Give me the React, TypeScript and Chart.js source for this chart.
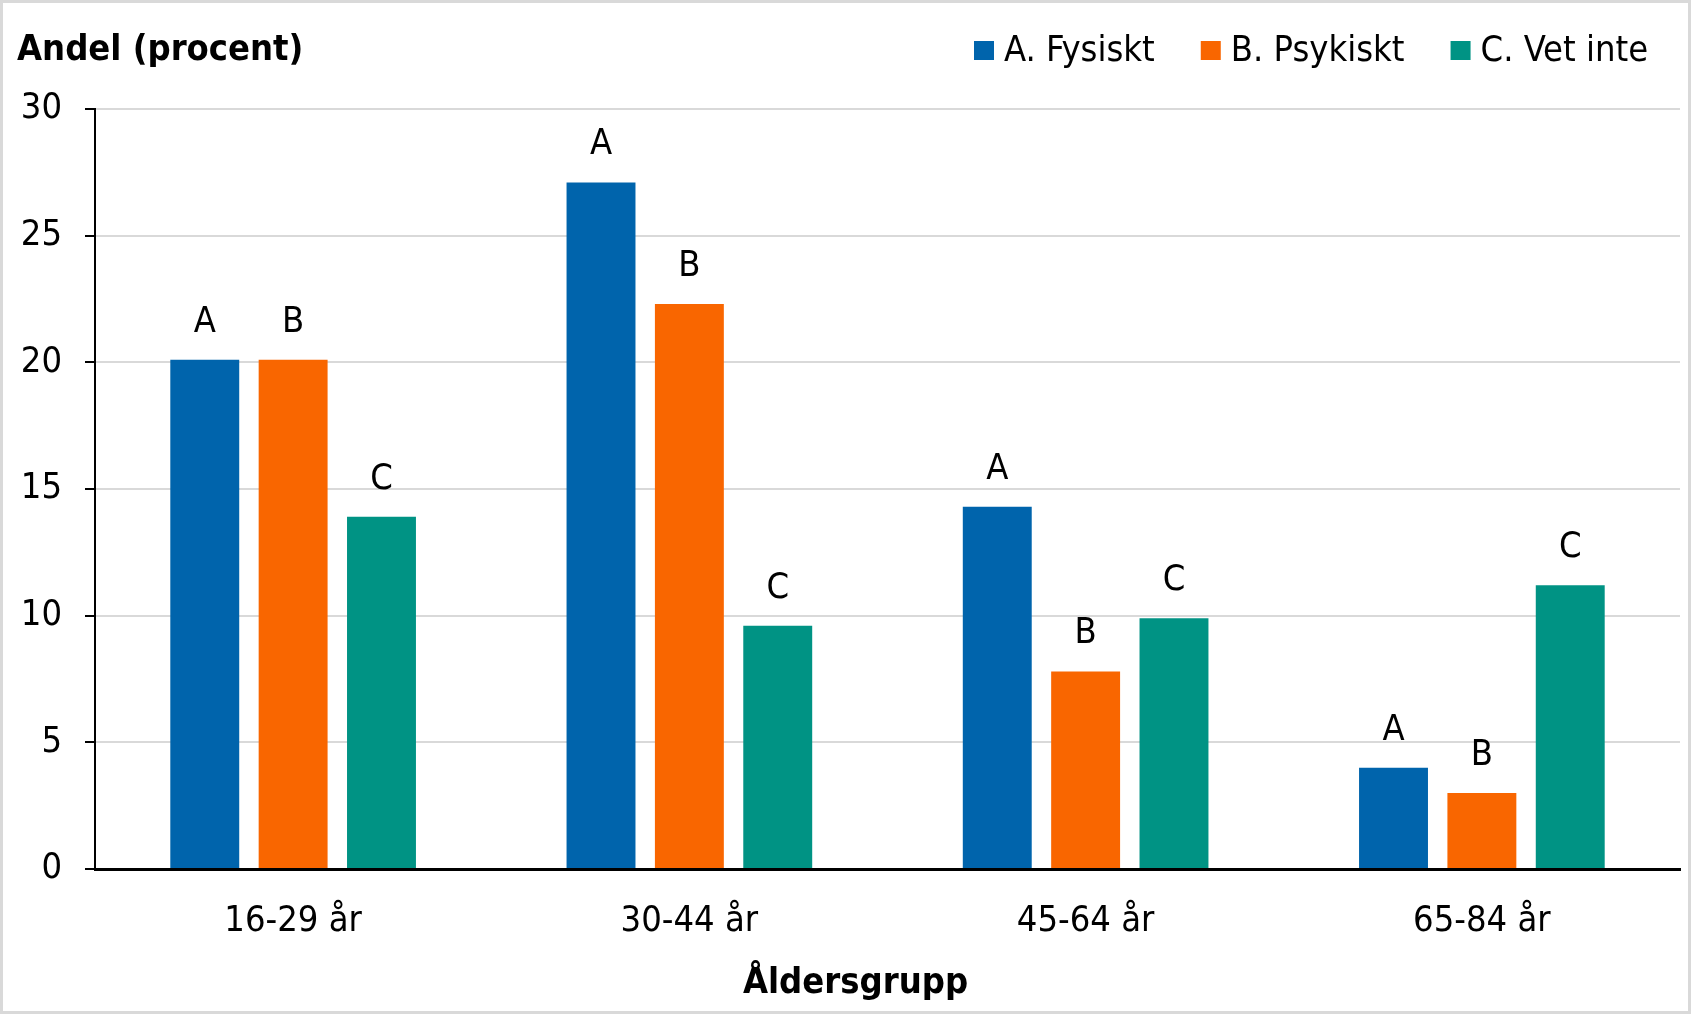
import React, { useEffect, useRef } from "react";
import { Chart, registerables } from "chart.js";

Chart.register(...registerables);

const categories = ["16-29 år", "30-44 år", "45-64 år", "65-84 år"];
const seriesNames = ["A. Fysiskt", "B. Psykiskt", "C. Vet inte"];
const barLetters = ["A", "B", "C"];
const valuesA = [20.1, 27.1, 14.3, 4.0];
const valuesB = [20.1, 22.3, 7.8, 3.0];
const valuesC = [13.9, 9.6, 9.9, 11.2];
const colors = ["#0064ac", "#f96600", "#009384"];
const yTitle = "Andel (procent)";
const xTitle = "Åldersgrupp";

const FONT = "'DejaVu Sans Condensed', 'DejaVu Sans', sans-serif";
const FS = 36;

export default function App() {
  const ref = useRef<HTMLCanvasElement | null>(null);

  useEffect(() => {
    document.body.style.margin = "0";
    const canvas = ref.current;
    if (!canvas) return;

    const labelPlugin = {
      id: "barLetters",
      afterDatasetsDraw(chart: any) {
        const ctx = chart.ctx;
        ctx.save();
        ctx.font = `${FS}px ${FONT}`;
        ctx.fillStyle = "#000";
        ctx.textAlign = "center";
        ctx.textBaseline = "alphabetic";
        chart.data.datasets.forEach((ds: any, i: number) => {
          const meta = chart.getDatasetMeta(i);
          meta.data.forEach((bar: any) => {
            ctx.fillText(barLetters[i], bar.x, bar.y - 28);
          });
        });
        ctx.restore();
      },
    };

    const textPlugin = {
      id: "titlesAndLegend",
      afterDraw(chart: any) {
        const ctx = chart.ctx;
        ctx.save();
        ctx.fillStyle = "#000";
        ctx.textBaseline = "alphabetic";
        // y-axis title (top-left)
        ctx.font = `bold ${FS}px ${FONT}`;
        ctx.textAlign = "left";
        ctx.fillText(yTitle, 14, 57);
        // x-axis title
        ctx.textAlign = "center";
        ctx.fillText(xTitle, chart.width / 2 + 10, 990);
        // legend
        ctx.font = `${FS}px ${FONT}`;
        ctx.textAlign = "left";
        let x = 971;
        const box = 20;
        const gapText = 10;
        const gapItem = 46;
        chart.data.datasets.forEach((ds: any, i: number) => {
          ctx.fillStyle = ds.backgroundColor;
          ctx.fillRect(x, 38, box, 19);
          ctx.fillStyle = "#000";
          ctx.fillText(ds.label, x + box + gapText, 58);
          x += box + gapText + ctx.measureText(ds.label).width + gapItem;
        });
        ctx.restore();
      },
    };

    const chart = new Chart(canvas, {
      type: "bar",
      data: {
        labels: categories,
        datasets: [valuesA, valuesB, valuesC].map((vals, i) => ({
          label: seriesNames[i],
          data: vals,
          backgroundColor: colors[i],
          borderWidth: 0,
          categoryPercentage: 0.669,
          barPercentage: 0.78,
        })),
      },
      options: {
        responsive: false,
        animation: false,
        layout: { padding: { top: 106, right: 8, left: 0, bottom: 0 } },
        font: { family: FONT },
        plugins: {
          tooltip: { enabled: false },
          title: { display: false },
          legend: { display: false },
        },
        scales: {
          x: {
            grid: { display: false },
            border: { display: true, color: "#000", width: 3 },
            ticks: {
              font: { family: FONT, size: FS },
              color: "#000",
              padding: 23,
            },
            afterFit(scale: any) {
              scale.height = 142;
            },
          },
          y: {
            min: 0,
            max: 30,
            ticks: {
              stepSize: 5,
              font: { family: FONT, size: FS },
              color: "#000",
              padding: 23,
            },
            grid: {
              color: "#d9d9d9",
              lineWidth: 2,
              tickColor: "#000",
              tickLength: 10,
            },
            border: { display: true, color: "#000", width: 2 },
            afterFit(scale: any) {
              scale.width = 92;
            },
          },
        },
      },
      plugins: [labelPlugin, textPlugin],
    } as any);

    return () => chart.destroy();
  }, []);

  return (
    <div
      style={{
        width: 1691,
        height: 1014,
        boxSizing: "border-box",
        border: "3px solid #d9d9d9",
        background: "#fff",
      }}
    >
      <canvas ref={ref} width={1685} height={1008} style={{ display: "block" }} />
    </div>
  );
}
